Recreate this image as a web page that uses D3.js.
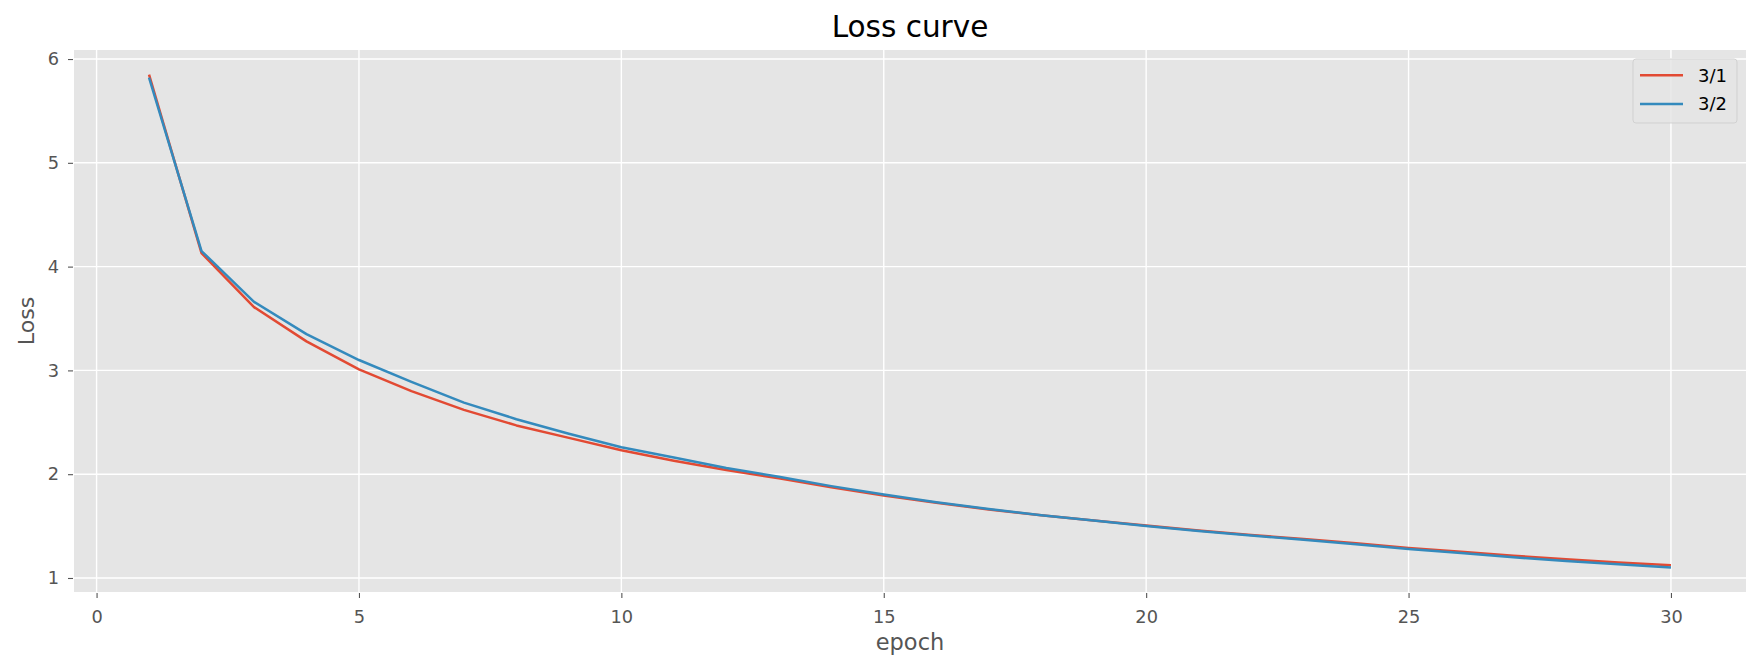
<!DOCTYPE html>
<html>
<head>
<meta charset="utf-8">
<script src="https://cdn.jsdelivr.net/npm/d3@7"></script>
<style>
  body { margin: 0; background: #ffffff; }
  svg { font-family: "DejaVu Sans", sans-serif; }
</style>
</head>
<body>
<div class="visualization"></div>
<script>
// values
const epochs = d3.range(1, 31);
const loss31 = [5.85, 4.13, 3.61, 3.28, 3.01, 2.80, 2.62, 2.47, 2.35, 2.23,
  2.13, 2.04, 1.96, 1.875, 1.795, 1.725, 1.66, 1.605, 1.555, 1.505,
  1.458, 1.415, 1.375, 1.335, 1.29, 1.253, 1.215, 1.18, 1.15, 1.122];
const loss32 = [5.82, 4.15, 3.66, 3.35, 3.10, 2.89, 2.69, 2.53, 2.39, 2.26,
  2.16, 2.06, 1.975, 1.885, 1.805, 1.73, 1.665, 1.605, 1.555, 1.502,
  1.452, 1.41, 1.368, 1.325, 1.28, 1.24, 1.2, 1.163, 1.132, 1.102];
const seriesNames = ["3/1", "3/2"];
const seriesColors = ["#E24A33", "#348ABD"];
const xTicks = [0, 5, 10, 15, 20, 25, 30];
const yTicks = [1, 2, 3, 4, 5, 6];

class LossChart {
  constructor() {
    this.width = 1761;
    this.height = 672;
    this.plot = { left: 74, right: 1746, top: 50, bottom: 592 };

    this.svg = d3.select(".visualization")
      .append("svg")
      .attr("width", this.width)
      .attr("height", this.height);

    this.x = d3.scaleLinear().domain([-0.43, 31.43]).range([this.plot.left, this.plot.right]);
    this.y = d3.scaleLinear().domain([0.865, 6.087]).range([this.plot.bottom, this.plot.top]);

    this.drawBackground();
    this.drawAxes();
    this.drawLines();
    this.drawLegend();
    this.drawTitles();
  }

  drawBackground() {
    const p = this.plot;
    this.svg.append("rect")
      .attr("x", p.left)
      .attr("y", p.top)
      .attr("width", p.right - p.left)
      .attr("height", p.bottom - p.top)
      .attr("fill", "#E5E5E5");

    // white grid
    this.svg.append("g")
      .selectAll("line")
      .data(xTicks)
      .enter()
      .append("line")
      .attr("x1", (d) => this.x(d))
      .attr("x2", (d) => this.x(d))
      .attr("y1", p.top)
      .attr("y2", p.bottom)
      .attr("stroke", "#ffffff")
      .attr("stroke-width", 1.4);

    this.svg.append("g")
      .selectAll("line")
      .data(yTicks)
      .enter()
      .append("line")
      .attr("x1", p.left)
      .attr("x2", p.right)
      .attr("y1", (d) => this.y(d))
      .attr("y2", (d) => this.y(d))
      .attr("stroke", "#ffffff")
      .attr("stroke-width", 1.4);
  }

  drawAxes() {
    const xAxis = d3.axisBottom(this.x)
      .tickValues(xTicks)
      .tickSize(5)
      .tickPadding(12)
      .tickFormat(d3.format("d"));
    const yAxis = d3.axisLeft(this.y)
      .tickValues(yTicks)
      .tickSize(5)
      .tickPadding(9)
      .tickFormat(d3.format("d"));

    const gx = this.svg.append("g")
      .attr("transform", `translate(0, ${this.plot.bottom + 1})`)
      .call(xAxis);
    const gy = this.svg.append("g")
      .attr("transform", `translate(${this.plot.left - 1}, 0)`)
      .call(yAxis);

    [gx, gy].forEach((g) => {
      g.select(".domain").remove();
      g.selectAll(".tick line").attr("stroke", "#555555").attr("stroke-width", 1.1);
      g.selectAll(".tick text")
        .attr("fill", "#555555")
        .style("font-size", "17.8px")
        .style("font-family", "DejaVu Sans");
    });
  }

  drawLines() {
    const allSeries = [loss31, loss32];
    const line = d3.line()
      .x((d, i) => this.x(epochs[i]))
      .y((d) => this.y(d));

    this.svg.append("g")
      .selectAll("path")
      .data(allSeries)
      .enter()
      .append("path")
      .attr("d", (d) => line(d))
      .attr("fill", "none")
      .attr("stroke", (d, i) => seriesColors[i])
      .attr("stroke-width", 2.5)
      .attr("stroke-linejoin", "round");
  }

  drawLegend() {
    const legend = this.svg.append("g").attr("transform", "translate(1633, 59)");
    legend.append("rect")
      .attr("width", 104)
      .attr("height", 64)
      .attr("rx", 3)
      .attr("fill", "#E5E5E5")
      .attr("fill-opacity", 0.8)
      .attr("stroke", "#cccccc")
      .attr("stroke-opacity", 0.8)
      .attr("stroke-width", 1);

    const rows = legend.selectAll(".legend-row")
      .data(seriesNames)
      .enter()
      .append("g")
      .attr("class", "legend-row")
      .attr("transform", (d, i) => `translate(0, ${16.3 + i * 28.7})`);

    rows.append("line")
      .attr("x1", 7)
      .attr("x2", 50)
      .attr("stroke", (d, i) => seriesColors[i])
      .attr("stroke-width", 2.5);

    rows.append("text")
      .attr("x", 65)
      .attr("dy", "0.35em")
      .style("font-size", "18px")
      .attr("fill", "#000000")
      .text((d) => d);
  }

  drawTitles() {
    const cx = (this.plot.left + this.plot.right) / 2;
    const cy = (this.plot.top + this.plot.bottom) / 2;

    this.svg.append("text")
      .attr("x", cx)
      .attr("y", 36.5)
      .attr("text-anchor", "middle")
      .style("font-size", "29.5px")
      .attr("fill", "#000000")
      .text("Loss curve");

    this.svg.append("text")
      .attr("x", cx)
      .attr("y", 650)
      .attr("text-anchor", "middle")
      .style("font-size", "22.5px")
      .attr("fill", "#555555")
      .text("epoch");

    this.svg.append("text")
      .attr("transform", `translate(34, ${cy}) rotate(-90)`)
      .attr("text-anchor", "middle")
      .style("font-size", "22px")
      .attr("fill", "#555555")
      .text("Loss");
  }
}

new LossChart();
</script>
</body>
</html>
